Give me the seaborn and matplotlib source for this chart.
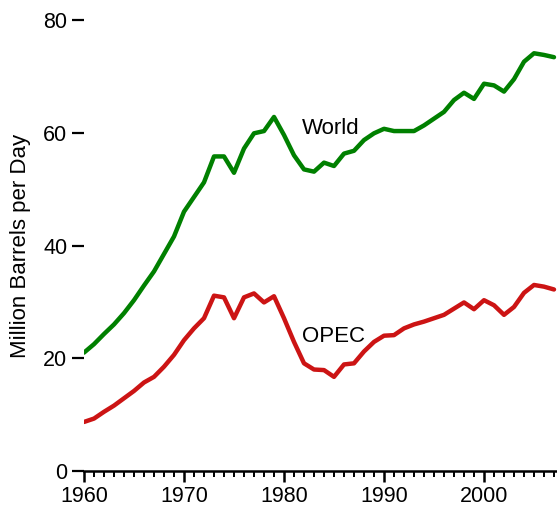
import numpy as np
import pandas as pd
import matplotlib
matplotlib.use("Agg")
import matplotlib.pyplot as plt
import seaborn as sns
from matplotlib.ticker import MultipleLocator

# Dane (miliony baryłek dziennie)
years = list(range(1960, 2008))
world = [21.0, 22.5, 24.3, 26.0, 28.0, 30.3, 32.9, 35.4, 38.5, 41.6,
         46.0, 48.6, 51.2, 55.8, 55.8, 52.9, 57.2, 59.9, 60.3, 62.8,
         59.6, 56.0, 53.5, 53.1, 54.7, 54.1, 56.3, 56.8, 58.7, 59.9,
         60.7, 60.3, 60.3, 60.3, 61.3, 62.5, 63.7, 65.8, 67.1, 66.0,
         68.7, 68.4, 67.3, 69.5, 72.6, 74.1, 73.8, 73.4]
opec = [8.7, 9.3, 10.5, 11.6, 12.9, 14.2, 15.7, 16.7, 18.5, 20.6,
        23.2, 25.3, 27.1, 31.1, 30.8, 27.1, 30.8, 31.5, 29.9, 31.0,
        27.1, 22.9, 19.1, 18.0, 17.9, 16.7, 18.9, 19.1, 21.2, 22.9,
        24.0, 24.1, 25.3, 26.0, 26.5, 27.1, 27.7, 28.8, 29.9, 28.7,
        30.3, 29.4, 27.7, 29.1, 31.6, 33.0, 32.7, 32.2]
series_names = ["World", "OPEC"]
series_colors = ["#008000", "#CC1414"]
label_pos = {"World": (1984.7, 60.8), "OPEC": (1984.9, 23.9)}

df = pd.DataFrame({
    "year": years * 2,
    "value": world + opec,
    "series": ["World"] * len(years) + ["OPEC"] * len(years),
})

sns.set_style("ticks")
plt.rcParams["font.family"] = ["Liberation Sans", "DejaVu Sans"]
plt.rcParams["text.color"] = "black"
plt.rcParams["axes.labelcolor"] = "black"
plt.rcParams["xtick.color"] = "black"
plt.rcParams["ytick.color"] = "black"

fig = plt.figure(figsize=(5.57, 5.09), dpi=100)
ax = fig.add_axes([84 / 557, 38 / 509, 1 - 84 / 557, 451 / 509])

sns.lineplot(data=df, x="year", y="value", hue="series",
             hue_order=series_names, palette=series_colors,
             linewidth=3.2, legend=False, ax=ax)

for name in series_names:
    x, y = label_pos[name]
    ax.text(x, y, name, fontsize=16, ha="center", va="center")

ax.set_xlim(1960, 2007.3)
ax.set_ylim(0, 80)
ax.set_xticks([1960, 1970, 1980, 1990, 2000])
ax.xaxis.set_minor_locator(MultipleLocator(1))
ax.set_yticks([0, 20, 40, 60, 80])

for side in ["left", "top", "right"]:
    ax.spines[side].set_visible(False)
ax.spines["bottom"].set_linewidth(1.8)
ax.spines["bottom"].set_color("black")

ax.tick_params(axis="x", which="major", length=8, width=1.8, pad=3,
               labelsize=15.5)
ax.tick_params(axis="x", which="minor", length=4.5, width=1.4)
ax.tick_params(axis="y", which="major", length=8.5, width=1.6, pad=3.5,
               labelsize=15.5)

ax.set_xlabel("")
ax.set_ylabel("Million Barrels per Day", fontsize=16)
ax.yaxis.set_label_coords(-0.112, 0.5)

fig.savefig("out.png", dpi=100)
